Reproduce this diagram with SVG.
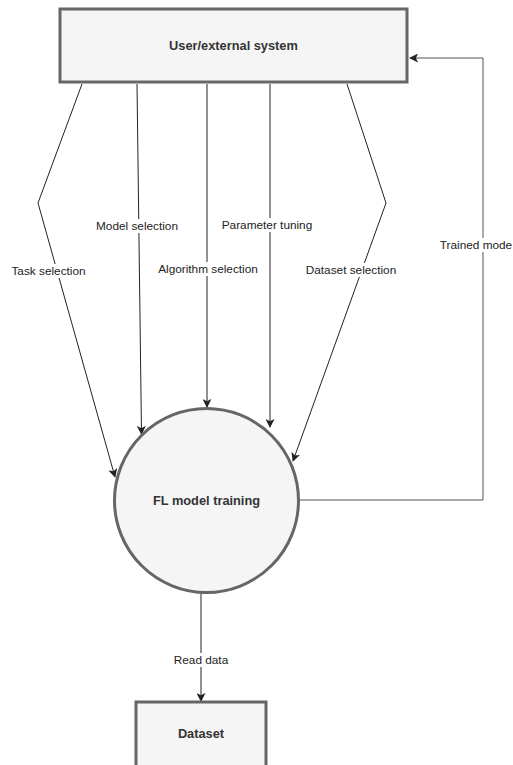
<svg xmlns="http://www.w3.org/2000/svg" width="513" height="765" viewBox="0 0 513 765">
  <defs>
    <marker id="arrow" viewBox="0 0 10 10" refX="9" refY="5" markerWidth="9" markerHeight="9" markerUnits="userSpaceOnUse" orient="auto">
      <path d="M0,0 L10,5 L0,10 L2.5,5 Z" fill="#222"/>
    </marker>
  </defs>
  <style>
    .node { fill: #f5f5f5; stroke: #666; stroke-width: 3; }
    .nlabel { font-family: "Liberation Sans", Arial, sans-serif; font-size: 12.8px; font-weight: bold; fill: #333; text-anchor: middle; dominant-baseline: central; }
    .edge { fill: none; stroke: #222; stroke-width: 1; marker-end: url(#arrow); }
    .elabel { font-family: "Liberation Sans", Arial, sans-serif; font-size: 11.8px; fill: #222; text-anchor: middle; dominant-baseline: central; }
    .lbg { fill: #fff; }
  </style>
  <rect width="513" height="765" fill="#fff"/>

  <g id="connectors">
    <path class="edge" d="M82,84 L38,203 L115,477"/>
    <path class="edge" d="M137,84 L141.5,434"/>
    <path class="edge" d="M207,84 L207,407"/>
    <path class="edge" d="M270,84 L270,427"/>
    <path class="edge" d="M347,84 L386,203 L293,461"/>
    <path class="edge" style="stroke:#555" d="M299,500 L483,500 L483,58 L410,58"/>
    <path class="edge" d="M201,593 L201,701"/>

    <rect class="lbg" x="9" y="264" width="80" height="14"/>
    <text class="elabel" x="48.5" y="271">Task selection</text>
    <rect class="lbg" x="93" y="219" width="88" height="14"/>
    <text class="elabel" x="137" y="226">Model selection</text>
    <rect class="lbg" x="154" y="262" width="108" height="14"/>
    <text class="elabel" x="208" y="269">Algorithm selection</text>
    <rect class="lbg" x="218" y="218" width="98" height="14"/>
    <text class="elabel" x="267" y="225">Parameter tuning</text>
    <rect class="lbg" x="302" y="263" width="98" height="14"/>
    <text class="elabel" x="351" y="270">Dataset selection</text>
    <rect class="lbg" x="440" y="238" width="73" height="14"/>
    <text class="elabel" x="476" y="245">Trained mode</text>
    <rect class="lbg" x="170" y="653" width="62" height="14"/>
    <text class="elabel" x="201" y="660">Read data</text>
  </g>

  <g id="user-external-system">
    <rect class="node" x="60" y="9" width="347" height="73"/>
    <text class="nlabel" x="233.5" y="45.5">User/external system</text>
  </g>

  <g id="fl-model-training">
    <circle class="node" cx="206.5" cy="500.5" r="92"/>
    <text class="nlabel" x="206.5" y="500">FL model training</text>
  </g>

  <g id="dataset">
    <rect class="node" x="136" y="702" width="130" height="70"/>
    <text class="nlabel" x="201" y="733">Dataset</text>
  </g>
</svg>
